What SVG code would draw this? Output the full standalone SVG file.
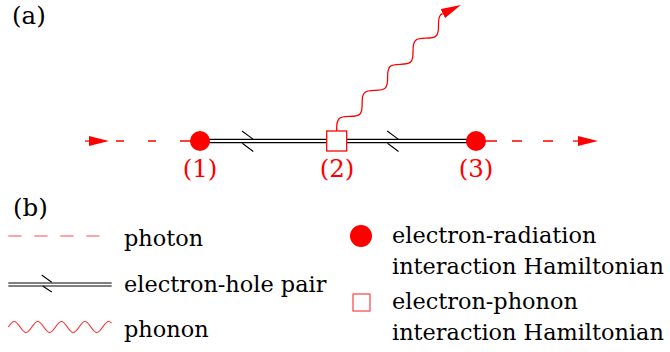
<svg xmlns="http://www.w3.org/2000/svg" width="670" height="352" viewBox="0 0 670 352">
<style>
text{font-family:'DejaVu Serif','Liberation Serif',serif;font-size:22.4px;fill:#000}
.big{font-size:24.5px}
.lbl{fill:#ff0000;text-anchor:middle;font-size:24.5px}
.ph{stroke:#ff0000;stroke-width:1.3;fill:none}
.eh{stroke:#000;stroke-width:1.2;fill:none}
.wave{stroke:#ff0000;stroke-width:1.3;fill:none}
.dot{fill:#ff0000}
.sq{fill:#fff;stroke:#ff0000;stroke-width:1.3}
</style>
<defs>
<marker id="ah" markerUnits="userSpaceOnUse" markerWidth="20" markerHeight="10" refX="0" refY="5" orient="auto" viewBox="0 0 20 10"><path d="M0,0L20,5L0,10z" fill="#ff0000"/></marker>
<path id="tick" d="M-11.3,-10L0,-1.6M-11,2.3L0,10.5" stroke="#000" stroke-width="1.1" fill="none"/>
</defs>
<text class="big" x="12" y="24">(a)</text>
<text class="big" x="13" y="216">(b)</text>
<g id="connectors">
<line class="ph" x1="85" y1="141" x2="89" y2="141" marker-end="url(#ah)"/>
<path class="ph" d="M116,141H124M148,141H156M180,141H192"/>
<path class="ph" d="M484,141H497M512,141H522M543,141H553"/>
<line class="ph" x1="573" y1="141" x2="578" y2="141" marker-end="url(#ah)"/>
<path class="eh" d="M200,139.4H476M200,142.6H476"/>
<use href="#tick" x="253.3" y="141"/>
<use href="#tick" x="398.5" y="141"/>
<g transform="translate(336.7,131) rotate(-45.7)">
<path class="wave" marker-end="url(#ah)" d="M0,0l1.07,-1.05
c2.971,-2.971 5.813,-5.8 9.111,-5.8 c3.298,0 6.140,2.829 9.111,5.8 c2.971,2.971 5.813,5.8 9.111,5.8 c3.298,0 6.140,-2.829 9.111,-5.8
c2.971,-2.971 5.813,-5.8 9.111,-5.8 c3.298,0 6.140,2.829 9.111,5.8 c2.971,2.971 5.813,5.8 9.111,5.8 c3.298,0 6.140,-2.829 9.111,-5.8
c2.971,-2.971 5.813,-5.8 9.111,-5.8 c3.298,0 6.140,2.829 9.111,5.8 c2.971,2.971 5.813,5.8 9.111,5.8 c3.298,0 6.140,-2.829 9.111,-5.8
c2.971,-2.971 5.813,-5.8 9.111,-5.8 c3.298,0 6.140,2.829 9.111,5.8 c2.971,2.971 5.813,5.8 9.111,5.8 c3.298,0 6.140,-2.829 9.111,-5.8
c2.971,-2.971 5.813,-5.8 9.111,-5.8 l2.2,0.8"/>
</g>
</g>
<g id="node1">
<circle class="dot" cx="200" cy="141" r="10"/>
<text class="lbl" x="200" y="177">(1)</text>
</g>
<g id="node2">
<rect class="sq" x="326.7" y="131" width="20" height="20"/>
<text class="lbl" x="337" y="177">(2)</text>
</g>
<g id="node3">
<circle class="dot" cx="476" cy="141" r="10"/>
<text class="lbl" x="476" y="177">(3)</text>
</g>
<g id="legend">
<line x1="8.3" y1="236" x2="99.5" y2="236" stroke="#ff4d4d" stroke-width="1.2" stroke-dasharray="13.3 12.7"/>
<text x="124" y="246">photon</text>
<path d="M8.3,283H111.7M8.3,286H111.7" stroke="#000" stroke-width="1.1" fill="none"/>
<path d="M41.7,275L51.7,282.3M42.7,286L51.7,292" stroke="#000" stroke-width="1.1" fill="none"/>
<text x="124" y="292">electron-hole pair</text>
<path d="M8.3,327 c1.924,-2.818 3.765,-5.5 5.9,-5.5 c2.135,0 3.976,2.682 5.9,5.5 c1.924,2.818 3.765,5.5 5.9,5.5 c2.135,0 3.976,-2.682 5.9,-5.5
c1.924,-2.818 3.765,-5.5 5.9,-5.5 c2.135,0 3.976,2.682 5.9,5.5 c1.924,2.818 3.765,5.5 5.9,5.5 c2.135,0 3.976,-2.682 5.9,-5.5
c1.924,-2.818 3.765,-5.5 5.9,-5.5 c2.135,0 3.976,2.682 5.9,5.5 c1.924,2.818 3.765,5.5 5.9,5.5 c2.135,0 3.976,-2.682 5.9,-5.5
c1.924,-2.818 3.765,-5.5 5.9,-5.5 c2.135,0 3.976,2.682 5.9,5.5 c1.924,2.818 3.765,5.5 5.9,5.5 c2.135,0 3.976,-2.682 5.9,-5.5
c1.924,-2.818 3.765,-5.5 5.9,-5.5 c1.07,0 2.0,0.7 2.95,1.61" stroke="#ff3333" stroke-width="1.2" fill="none"/>
<text x="124" y="337">phonon</text>
<circle class="dot" cx="361" cy="236" r="11"/>
<text x="392" y="243">electron-radiation</text>
<text x="392" y="274">interaction Hamiltonian</text>
<rect x="353" y="294" width="17" height="17" fill="#fff" stroke="#ff4040" stroke-width="1.2"/>
<text x="392" y="309">electron-phonon</text>
<text x="392" y="340">interaction Hamiltonian</text>
</g>
</svg>
